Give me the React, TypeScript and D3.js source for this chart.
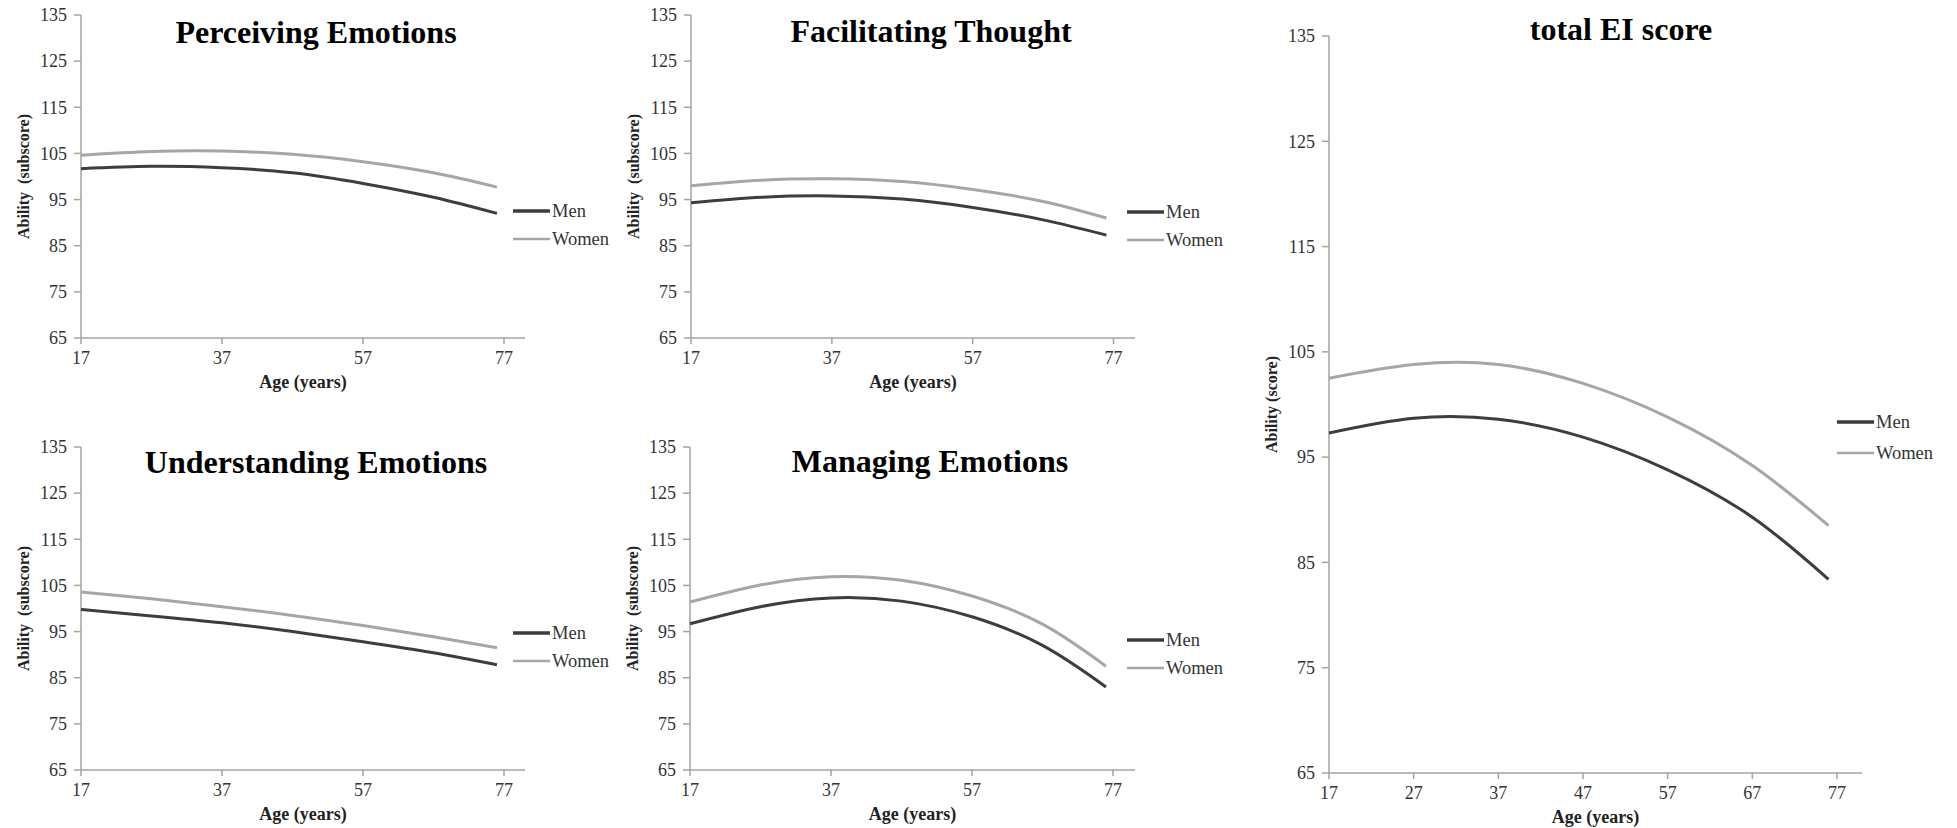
import React from 'react';
import * as d3 from 'd3';

const ages = [17, 27, 37, 47, 57, 67, 76];
const yTicks = [65, 75, 85, 95, 105, 115, 125, 135];
const smallXTicks = [17, 37, 57, 77];
const totalXTicks = [17, 27, 37, 47, 57, 67, 77];

const seriesNames = ['Men', 'Women'];
const seriesColors = ['#3d3d3d', '#a6a6a6'];

const perceivingMen = [101.7, 102.2, 101.9, 100.8, 98.5, 95.5, 92.0];
const perceivingWomen = [104.6, 105.4, 105.5, 104.8, 103.2, 100.8, 97.7];

const facilitatingMen = [94.3, 95.5, 95.8, 95.1, 93.3, 90.6, 87.3];
const facilitatingWomen = [98.0, 99.2, 99.5, 98.9, 97.2, 94.6, 91.0];

const understandingMen = [99.8, 98.4, 96.9, 95.0, 92.8, 90.4, 87.8];
const understandingWomen = [103.6, 102.1, 100.4, 98.5, 96.3, 93.9, 91.5];

const managingMen = [96.7, 100.4, 102.3, 101.6, 98.2, 92.0, 83.0];
const managingWomen = [101.4, 105.1, 106.9, 106.1, 102.7, 96.6, 87.5];

const totalMen = [97.3, 98.7, 98.6, 96.9, 93.8, 89.3, 83.4];
const totalWomen = [102.5, 103.8, 103.8, 102.0, 98.8, 94.2, 88.5];

const FONT = "'Liberation Serif', 'Times New Roman', serif";
const AXIS = '#a3a3a3';

type Layout = {
  left: number; x77: number; axisEnd: number; top: number; bottom: number;
  titleX: number; titleY: number; yLabelX: number;
  legendX: number; menY: number; womenY: number;
};

function Panel({ lay, title, yLabel, men, women, xTicks }: {
  lay: Layout; title: string; yLabel: string; men: number[]; women: number[]; xTicks: number[];
}) {
  const x = d3.scaleLinear().domain([17, 77]).range([lay.left, lay.x77]);
  const y = d3.scaleLinear().domain([65, 135]).range([lay.bottom, lay.top]);
  const line = d3.line<number>()
    .x((_, i) => x(ages[i]))
    .y(d => y(d))
    .curve(d3.curveNatural);
  const legendYs = [lay.menY, lay.womenY];

  return (
    <g>
      {/* axes */}
      <line x1={lay.left} x2={lay.left} y1={lay.top} y2={lay.bottom} stroke={AXIS} strokeWidth={1.5} />
      <line x1={lay.left} x2={lay.axisEnd} y1={lay.bottom} y2={lay.bottom} stroke={AXIS} strokeWidth={1.5} />
      {yTicks.map(t => (
        <g key={'y' + t}>
          <line x1={lay.left - 7} x2={lay.left} y1={y(t)} y2={y(t)} stroke={AXIS} strokeWidth={1.5} />
          <text x={lay.left - 14} y={y(t)} dy="0.35em" textAnchor="end" fontSize={18} fill="#333" fontFamily={FONT}>{t}</text>
        </g>
      ))}
      {xTicks.map(t => (
        <g key={'x' + t}>
          <line x1={x(t)} x2={x(t)} y1={lay.bottom} y2={lay.bottom + 6} stroke={AXIS} strokeWidth={1.5} />
          <text x={x(t)} y={lay.bottom + 26} textAnchor="middle" fontSize={18} fill="#333" fontFamily={FONT}>{t}</text>
        </g>
      ))}

      {/* titles */}
      <text x={lay.titleX} y={lay.titleY} textAnchor="middle" fontSize={32} fontWeight="bold" fill="#000" fontFamily={FONT}>{title}</text>
      <text x={(lay.left + lay.axisEnd) / 2} y={lay.bottom + 50} textAnchor="middle" fontSize={18} fontWeight="bold" fill="#222" fontFamily={FONT}>Age (years)</text>
      <text transform={`translate(${lay.yLabelX},${(lay.top + lay.bottom) / 2}) rotate(-90)`} textAnchor="middle"
        fontSize={16} fontWeight="bold" fill="#222" fontFamily={FONT} style={{ whiteSpace: 'pre' }}>{yLabel}</text>

      {/* curves */}
      {[men, women].map((vals, i) => (
        <path key={seriesNames[i]} d={line(vals) || ''} fill="none" stroke={seriesColors[i]} strokeWidth={3} />
      ))}

      {/* legend */}
      {seriesNames.map((name, i) => (
        <g key={'lg' + name}>
          <line x1={lay.legendX} x2={lay.legendX + 37} y1={legendYs[i]} y2={legendYs[i]} stroke={seriesColors[i]} strokeWidth={i === 0 ? 3.5 : 2.5} />
          <text x={lay.legendX + 39} y={legendYs[i]} dy="0.33em" fontSize={18.5} fill="#333" fontFamily={FONT}>{name}</text>
        </g>
      ))}
    </g>
  );
}

export default function App() {
  const perceivingLay: Layout = { left: 81, x77: 504, axisEnd: 525, top: 15, bottom: 338, titleX: 316, titleY: 43, yLabelX: 29, legendX: 513, menY: 211, womenY: 239 };
  const facilitatingLay: Layout = { left: 691, x77: 1113.5, axisEnd: 1135, top: 15, bottom: 338, titleX: 931, titleY: 42, yLabelX: 639, legendX: 1127, menY: 212, womenY: 240 };
  const understandingLay: Layout = { left: 81, x77: 504, axisEnd: 525, top: 447, bottom: 770, titleX: 316, titleY: 473, yLabelX: 29, legendX: 513, menY: 633, womenY: 661 };
  const managingLay: Layout = { left: 690, x77: 1113, axisEnd: 1135, top: 447, bottom: 770, titleX: 930, titleY: 472, yLabelX: 638, legendX: 1127, menY: 640, womenY: 668 };
  const totalLay: Layout = { left: 1329, x77: 1837, axisEnd: 1862, top: 36, bottom: 773, titleX: 1621, titleY: 40, yLabelX: 1277, legendX: 1837, menY: 422, womenY: 453 };

  return (
    <svg width={1957} height={828} style={{ position: 'absolute', left: 0, top: 0, background: '#fff' }}>
      <rect width={1957} height={828} fill="#fff" />
      <Panel lay={perceivingLay} title="Perceiving Emotions" yLabel="Ability  (subscore)" men={perceivingMen} women={perceivingWomen} xTicks={smallXTicks} />
      <Panel lay={facilitatingLay} title="Facilitating Thought" yLabel="Ability  (subscore)" men={facilitatingMen} women={facilitatingWomen} xTicks={smallXTicks} />
      <Panel lay={understandingLay} title="Understanding Emotions" yLabel="Ability  (subscore)" men={understandingMen} women={understandingWomen} xTicks={smallXTicks} />
      <Panel lay={managingLay} title="Managing Emotions" yLabel="Ability  (subscore)" men={managingMen} women={managingWomen} xTicks={smallXTicks} />
      <Panel lay={totalLay} title="total EI score" yLabel="Ability (score)" men={totalMen} women={totalWomen} xTicks={totalXTicks} />
    </svg>
  );
}
